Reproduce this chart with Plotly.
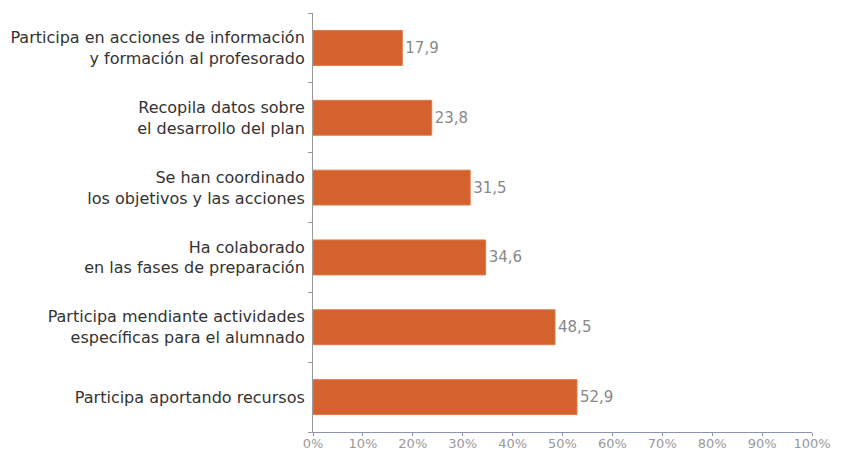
import plotly.graph_objects as go

# Categories from bottom to top, as plotted
categories = [
    "Participa aportando recursos",
    "Participa mendiante actividades<br>específicas para el alumnado",
    "Ha colaborado<br>en las fases de preparación",
    "Se han coordinado<br>los objetivos y las acciones",
    "Recopila datos sobre<br>el desarrollo del plan",
    "Participa en acciones de información<br>y formación al profesorado",
]
values = [52.9, 48.5, 34.6, 31.5, 23.8, 17.9]
x_ticks = list(range(0, 101, 10))
x_tick_labels = [f"{t}%" for t in x_ticks]

bar = go.Bar(
    x=values,
    y=categories,
    orientation="h",
    width=0.5,
    marker=dict(color="#D4622E", line=dict(color="#E07A48", width=1)),
    text=[f"{v:.1f}".replace(".", ",") for v in values],
    textposition="outside",
    textfont=dict(color="#888888", size=15, family="DejaVu Sans"),
    cliponaxis=False,
)

# the page body adds an 8px offset, so the figure is a bit smaller than the window
layout = go.Layout(
    width=835,
    height=444,
    margin=dict(l=305, r=31, t=5, b=20, autoexpand=False),
    plot_bgcolor="white",
    paper_bgcolor="white",
    showlegend=False,
    font=dict(family="DejaVu Sans", size=15, color="#333333"),
    xaxis=dict(
        range=[0, 100],
        tickvals=x_ticks,
        ticktext=x_tick_labels,
        showgrid=False,
        zeroline=False,
        showline=True,
        linecolor="#8C93B0",
        linewidth=1,
        ticks="outside",
        ticklen=3,
        tickcolor="#8C93B0",
        ticklabelstandoff=-4,
        tickfont=dict(color="#999999", size=13),
        automargin=False,
        fixedrange=True,
    ),
    yaxis=dict(
        showgrid=False,
        zeroline=False,
        showline=True,
        linecolor="#999999",
        linewidth=1,
        ticks="outside",
        tickson="boundaries",
        ticklen=4,
        tickcolor="#999999",
        ticklabelstandoff=4,
        tickfont=dict(color="#333333", size=16),
        automargin=False,
        fixedrange=True,
    ),
)

fig = go.Figure(data=[bar], layout=layout)
fig.write_html("out.html")
